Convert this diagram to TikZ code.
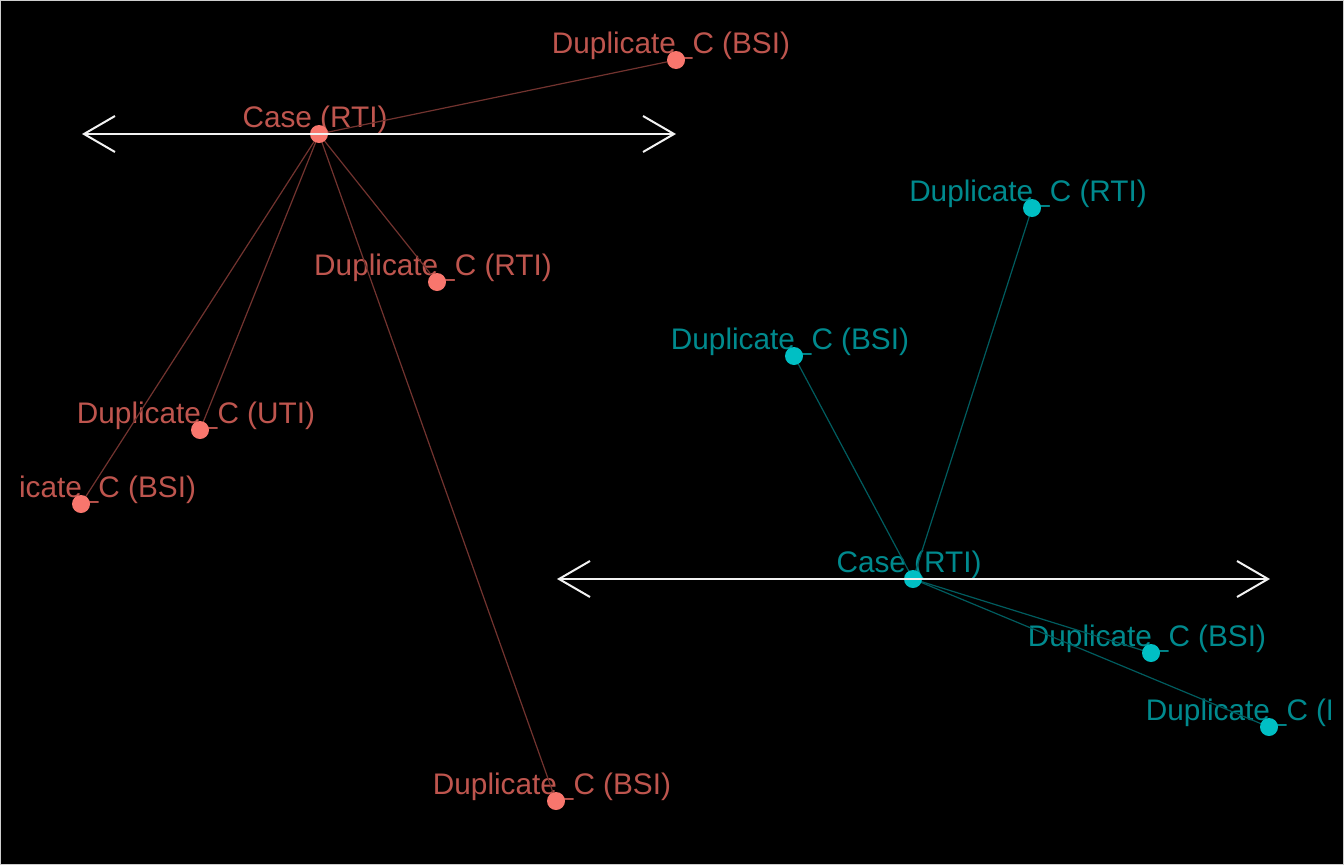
\documentclass[tikz,border=0pt]{standalone}
\usepackage{fontspec}
\setmainfont{Liberation Sans}
\usetikzlibrary{arrows.meta}
\definecolor{redpt}{HTML}{F8766D}
\definecolor{redtx}{HTML}{BE554E}
\definecolor{redln}{HTML}{72332F}
\definecolor{tealpt}{HTML}{00BFC4}
\definecolor{tealtx}{HTML}{008A8E}
\definecolor{tealln}{HTML}{005C5F}
\definecolor{axis}{HTML}{F2F2F2}
\tikzset{
  lbl/.style={anchor=base, inner sep=0pt, font=\fontsize{29.75}{30}\selectfont},
  rlbl/.style={lbl, text=redtx},
  tlbl/.style={lbl, text=tealtx},
  rpt/.style={circle, fill=redpt, minimum size=18pt, inner sep=0pt},
  tpt/.style={circle, fill=tealpt, minimum size=18pt, inner sep=0pt},
  redge/.style={draw=redln, line width=1.2pt},
  tedge/.style={draw=tealln, line width=1.2pt},
  dbl/.style={draw=axis, line width=2pt, {Straight Barb[length=31pt,width=36pt,line width=2pt]}-{Straight Barb[length=31pt,width=36pt,line width=2pt]}}
}
\begin{document}
\begin{tikzpicture}[x=1pt,y=-1pt]
\fill[black] (0,0) rectangle (1344,865);
\useasboundingbox (0,0) rectangle (1344,865);
% labels (clipped to panel)
\begin{scope}
\clip (20,0) rectangle (1330,865);
\node[rlbl] (lr0) at (315,127) {Case (RTI)};
\node[rlbl] (lr1) at (671,53) {Duplicate\_C (BSI)};
\node[rlbl] (lr2) at (433,275) {Duplicate\_C (RTI)};
\node[rlbl] (lr3) at (196,423) {Duplicate\_C (UTI)};
\node[rlbl] (lr4) at (77,497) {Duplicate\_C (BSI)};
\node[rlbl] (lr5) at (552,794) {Duplicate\_C (BSI)};
\node[tlbl] (lt0) at (909,572) {Case (RTI)};
\node[tlbl] (lt1) at (1028,201) {Duplicate\_C (RTI)};
\node[tlbl] (lt2) at (790,349) {Duplicate\_C (BSI)};
\node[tlbl] (lt3) at (1147,646) {Duplicate\_C (BSI)};
\node[tlbl] (lt4) at (1265,720) {Duplicate\_C (BSI)};
\end{scope}
% point coordinates
\coordinate (r0) at (319,134);
\coordinate (r1) at (676,60);
\coordinate (r2) at (437,282);
\coordinate (r3) at (200,430);
\coordinate (r4) at (81,504);
\coordinate (r5) at (556,801);
\coordinate (t0) at (913,579);
\coordinate (t1) at (1032,208);
\coordinate (t2) at (794,356);
\coordinate (t3) at (1151,653);
\coordinate (t4) at (1269,727);
% edges
\foreach \i in {1,...,5} \draw[redge] (r0) -- (r\i);
\foreach \i in {1,...,4} \draw[tedge] (t0) -- (t\i);
% points
\foreach \i in {0,...,5} \node[rpt] (pr\i) at (r\i) {};
\foreach \i in {0,...,4} \node[tpt] (pt\i) at (t\i) {};
% double arrows
\coordinate (ra) at (82,134);
\coordinate (rb) at (676,134);
\coordinate (ta) at (557,579);
\coordinate (tb) at (1270,579);
\draw[dbl] (ra) -- (rb);
\draw[dbl] (ta) -- (tb);
% border
\draw[draw=axis!85!black, line width=1pt] (0.5,0.5) rectangle (1343.5,864.5);
\end{tikzpicture}
\end{document}
